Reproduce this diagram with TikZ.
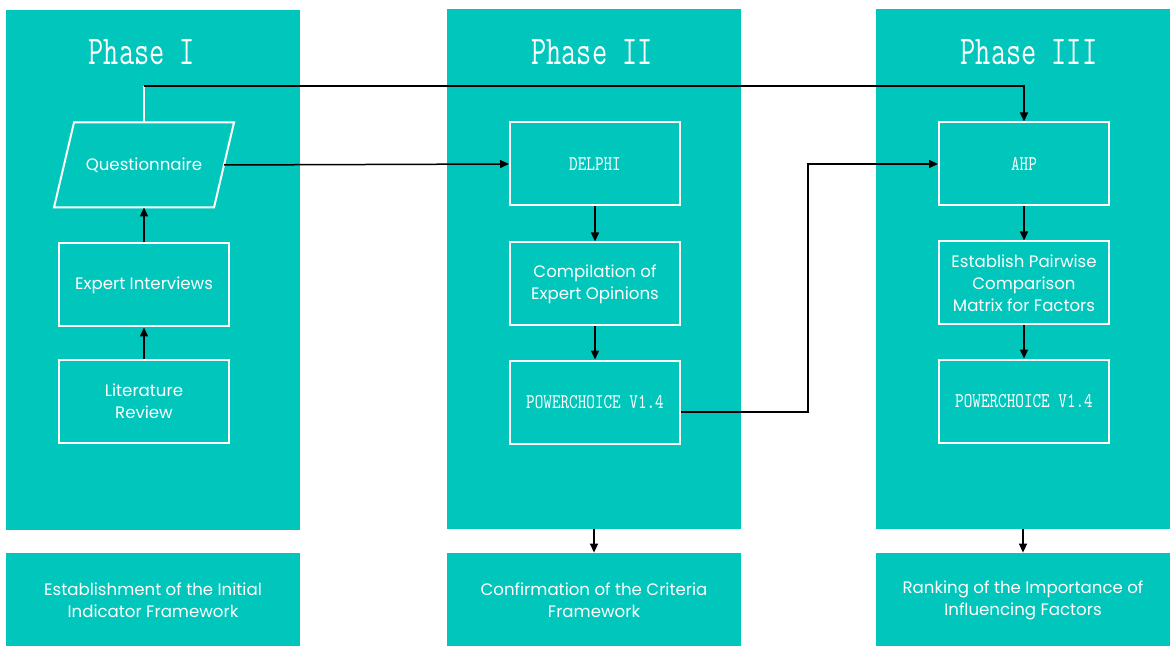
\documentclass[tikz,border=0pt]{standalone}
\usepackage{fontspec}
\setmainfont{Poppins}
\newfontfamily\simfont[FakeStretch=0.78]{Latin Modern Mono}
\newfontfamily\simtitle[FakeStretch=0.72]{Latin Modern Mono}
\usepackage{tikz}
\usetikzlibrary{positioning, arrows.meta}

\definecolor{panelteal}{HTML}{00C6BC}

\tikzset{
  panel/.style={fill=panelteal, inner sep=0pt, minimum width=147pt},
  stepbox/.style={draw=white, line width=1pt, text=white, align=center,
    minimum width=85pt, minimum height=41.5pt, inner sep=1pt,
    font=\fontsize{8.3}{11}\selectfont},
  toolbox/.style={stepbox, font=\simfont\fontsize{10.5}{12}\selectfont},
  title/.style={text=white, font=\simtitle\fontsize{20.5}{24}\selectfont},
  result/.style={panel, minimum height=47pt, text=white, align=center,
    font=\fontsize{8.3}{11}\selectfont},
  arr/.style={-{Triangle[length=4.5pt,width=4pt]}, line width=0.75pt}
}

\begin{document}
\begin{tikzpicture}[x=0.5pt, y=-0.5pt]
\useasboundingbox (0,0) rectangle (1171,646);

% Phase panels
\node[panel, minimum height=260pt] (ph1) at (153,270) {};
\node[panel, minimum height=260pt] (ph2) at (594,269) {};
\node[panel, minimum height=260pt] (ph3) at (1023,269) {};

\node[title] (t1) at (142,52) {Phase~I};
\node[title] (t2) at (592,52) {Phase~II};
\node[title] (t3) at (1029,52) {Phase~III};

% Results under each phase
\node[result] (res1) at (153,600) {Establishment of the Initial\\Indicator Framework};
\node[result] (res2) at (594,600) {Confirmation of the Criteria\\Framework};
\node[result] (res3) at (1023,600) {Ranking of the Importance of\\Influencing Factors};

% Phase I steps
\node[stepbox] (lit) at (144,401) {Literature\\Review};
\node[stepbox] (intv) at (144,285) {Expert Interviews};
\node[stepbox, draw=none, minimum width=79pt] (quest) at (144,165) {Questionnaire};
\draw[white, line width=1pt] ([xshift=5pt]quest.north west) -- ([xshift=5pt]quest.north east)
  -- ([xshift=-5pt]quest.south east) -- ([xshift=-5pt]quest.south west) -- cycle;

% Phase II steps
\node[toolbox] (delphi) at (595,164) {DELPHI};
\node[stepbox] (comp) at (595,284) {Compilation of\\Expert Opinions};
\node[toolbox] (pc2) at (595,402) {POWERCHOICE V1.4};

% Phase III steps
\node[toolbox] (ahp) at (1024,164) {AHP};
\node[stepbox] (pair) at (1024,283) {Establish Pairwise\\Comparison\\Matrix for Factors};
\node[toolbox] (pc3) at (1024,401) {POWERCHOICE V1.4};

% Arrows inside the phases
\draw[arr] (lit) -- (intv);
\draw[arr] (intv) -- (quest);
\draw[arr] (delphi) -- (comp);
\draw[arr] (comp) -- (pc2);
\draw[arr] (ahp) -- (pair);
\draw[arr] (pair) -- (pc3);

% Arrows between phases
\coordinate (top) at (144,86);
\coordinate (bend) at (808,0);
\draw[line width=0.75pt, white] (quest.north) -- (top);
\draw[arr] (top) -| (ahp.north);
\draw[arr] (quest.east) -- (delphi.west);
\draw[arr] ([yshift=-5pt]pc2.east) -| (bend |- ahp.west) -- (ahp.west);

% Arrows to the results
\draw[arr] (ph2.south) -- (res2.north);
\draw[arr] (ph3.south) -- (res3.north);

\end{tikzpicture}
\end{document}
